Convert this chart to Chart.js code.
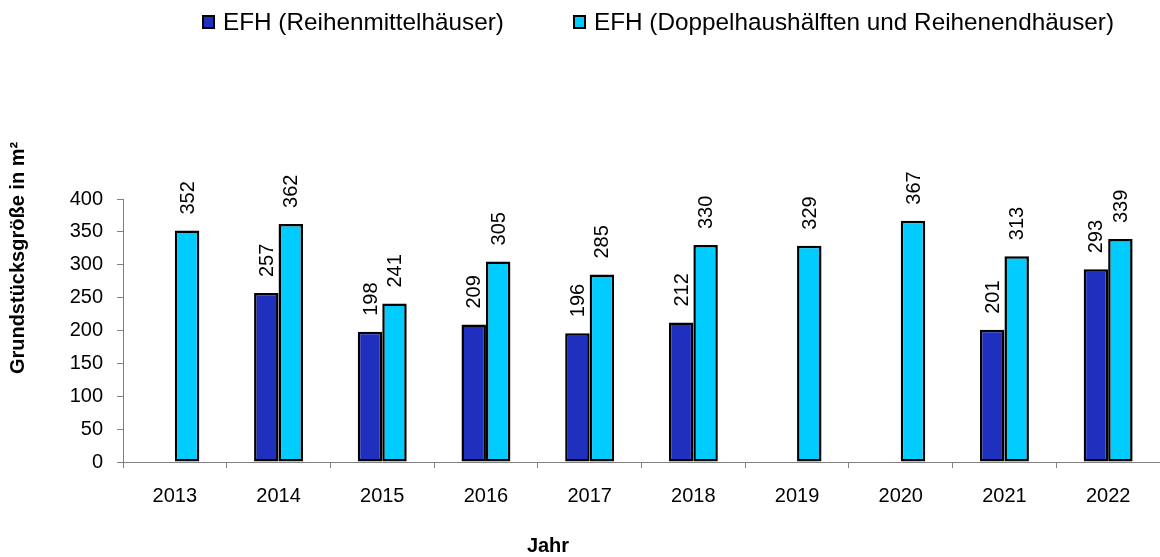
<!DOCTYPE html>
<html>
<head>
<meta charset="utf-8">
<script src="https://cdn.jsdelivr.net/npm/chart.js@4/dist/chart.umd.min.js"></script>
<style>
  body { margin: 0; background: #fff; }
</style>
</head>
<body>
<canvas id="chart" width="1160" height="557"></canvas>
<script>
'use strict';

var years = ['2013', '2014', '2015', '2016', '2017', '2018', '2019', '2020', '2021', '2022'];
var seriesNames = ['EFH (Reihenmittelhäuser)', 'EFH (Doppelhaushälften und Reihenendhäuser)'];
var reihenmittel = [null, 257, 198, 209, 196, 212, null, null, 201, 293];
var doppelhaus = [352, 362, 241, 305, 285, 330, 329, 367, 313, 339];
var yTicks = [0, 50, 100, 150, 200, 250, 300, 350, 400];
var yTitle = 'Grundstücksgröße in m²';
var xTitle = 'Jahr';

var fontName = "'Liberation Sans', Arial, sans-serif";

// values on top of the bars, turned upright
var barLabels = {
  id: 'barLabels',
  afterDatasetsDraw: function(chart) {
    var ctx = chart.ctx;
    ctx.save();
    ctx.fillStyle = '#000';
    ctx.font = '20px ' + fontName;
    ctx.textAlign = 'left';
    ctx.textBaseline = 'middle';
    chart.data.datasets.forEach(function(ds, i) {
      var meta = chart.getDatasetMeta(i);
      meta.data.forEach(function(bar, j) {
        if (ds.data[j] === null) return;
        ctx.save();
        ctx.translate(bar.x + 1, bar.y - 16);
        ctx.rotate(-Math.PI / 2);
        ctx.fillText(String(ds.data[j]), 0, 0);
        ctx.restore();
      });
    });
    ctx.restore();
  }
};

// legend row and the two axis titles
var extras = {
  id: 'extras',
  afterDraw: function(chart) {
    var ctx = chart.ctx;
    var legendX = [203, 574];
    ctx.save();
    ctx.font = '24.3px ' + fontName;
    ctx.textBaseline = 'alphabetic';
    ctx.textAlign = 'left';
    chart.data.datasets.forEach(function(ds, i) {
      ctx.fillStyle = ds.backgroundColor;
      ctx.fillRect(legendX[i], 16, 11, 12);
      ctx.strokeStyle = '#000';
      ctx.lineWidth = 2;
      ctx.strokeRect(legendX[i], 16, 11, 12);
      ctx.fillStyle = '#000';
      ctx.fillText(ds.label, legendX[i] + 20, 30);
    });

    ctx.font = 'bold 20px ' + fontName;
    ctx.textAlign = 'center';
    ctx.fillText(xTitle, 548, 552);

    ctx.translate(24, 258);
    ctx.rotate(-Math.PI / 2);
    ctx.fillText(yTitle, 0, 0);
    ctx.restore();
  }
};

var ctx = document.getElementById('chart').getContext('2d');

new Chart(ctx, {
  type: 'bar',
  data: {
    labels: years,
    datasets: [{
      label: seriesNames[0],
      data: reihenmittel,
      backgroundColor: '#1f2fbe',
      borderColor: '#000',
      borderWidth: 2.5,
      borderSkipped: false
    }, {
      label: seriesNames[1],
      data: doppelhaus,
      backgroundColor: '#00ccff',
      borderColor: '#000',
      borderWidth: 2.5,
      borderSkipped: false
    }]
  },
  options: {
    responsive: false,
    animation: false,
    devicePixelRatio: 1,
    layout: { padding: { top: 199, left: 0, right: 0, bottom: 0 } },
    datasets: {
      bar: { categoryPercentage: 0.472, barPercentage: 1 }
    },
    plugins: {
      legend: { display: false },
      tooltip: { enabled: false }
    },
    scales: {
      x: {
        offset: true,
        grid: {
          offset: true,
          drawOnChartArea: false,
          drawTicks: true,
          tickLength: 6,
          color: '#808080'
        },
        border: { color: '#808080', width: 1 },
        ticks: {
          color: '#000',
          font: { size: 20, family: fontName },
          padding: 16,
          maxRotation: 0,
          autoSkip: false
        },
        afterFit: function(scale) { scale.height = 95; }
      },
      y: {
        min: 0,
        max: 400,
        afterBuildTicks: function(scale) {
          scale.ticks = yTicks.map(function(v) { return { value: v }; });
        },
        grid: {
          drawOnChartArea: false,
          drawTicks: true,
          tickLength: 6,
          color: '#808080'
        },
        border: { color: '#808080', width: 1 },
        ticks: {
          color: '#000',
          font: { size: 20, family: fontName },
          padding: 14
        },
        afterFit: function(scale) { scale.width = 123; }
      }
    }
  },
  plugins: [barLabels, extras]
});
</script>
</body>
</html>
